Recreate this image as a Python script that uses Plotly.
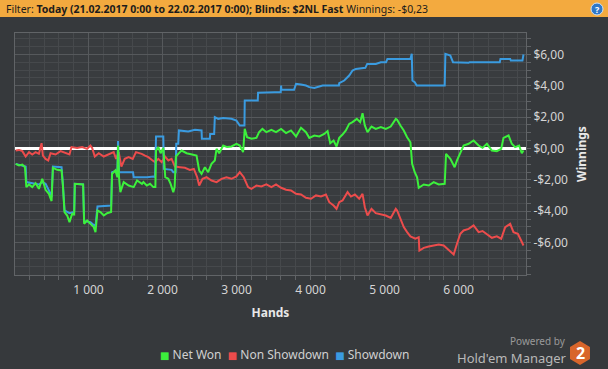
import plotly.graph_objects as go

# ---------------- data ----------------
hands_net = [17, 62, 107, 143, 161, 197, 241, 286, 331, 376, 421, 466, 502, 520, 578, 637, 655, 677, 713, 744,
             780, 807, 816, 870, 928, 942, 982, 1027, 1072, 1095, 1122, 1162, 1207, 1252, 1306, 1319, 1364, 1391,
             1400, 1413, 1431, 1476, 1543, 1611, 1656, 1723, 1742, 1787, 1832, 1877, 1904, 1913, 1944, 1975, 2011,
             2038, 2079, 2110, 2146, 2164, 2182, 2213, 2258, 2326, 2393, 2460, 2496, 2528, 2573, 2617, 2662, 2707,
             2730, 2766, 2820, 2873, 2932, 2999, 3044, 3089, 3111, 3143, 3201, 3269, 3305, 3350, 3403, 3471, 3534,
             3602, 3669, 3736, 3804, 3871, 3938, 3983, 4051, 4118, 4185, 4230, 4266, 4311, 4351, 4387, 4432, 4477,
             4522, 4567, 4625, 4670, 4702, 4733, 4769, 4823, 4881, 4949, 5016, 5083, 5151, 5169, 5214, 5259, 5304,
             5349, 5372, 5407, 5439, 5461, 5529, 5596, 5663, 5731, 5812, 5830, 5888, 5946, 5978, 6023, 6067, 6135,
             6202, 6270, 6323, 6382, 6449, 6516, 6575, 6606, 6674, 6718, 6763, 6817, 6853, 6876]
net_won = [-0.98, -1.08, -1.02, -1.19, -2.46, -2.29, -2.46, -2.21, -2.57, -1.93, -2.63, -2.89, -3.35, -1.23, -1.36,
           -1.40, -2.36, -4.05, -4.27, -4.69, -4.16, -4.20, -2.25, -2.29, -2.29, -4.80, -4.58, -4.80, -5.01, -5.33,
           -3.95, -4.05, -4.27, -4.12, -4.05, -1.61, -1.40, -1.83, 0.19, -1.83, -2.78, -2.14, -2.36, -2.46, -2.04,
           -2.25, -2.14, -2.36, -2.25, -2.46, -2.46, -0.13, 0.09, -0.30, 0.04, -1.83, -1.93, -2.25, -2.78, -2.46,
           -0.51, -0.34, -0.13, -0.30, -0.38, -0.45, -1.40, -1.61, -1.19, -1.51, -0.98, -0.76, -0.02, -0.30, 0.19,
           0.09, 0.13, 0.30, 0.19, -0.23, 1.25, 0.72, 0.62, 0.68, 1.04, 1.25, 1.04, 1.19, 1.04, 1.25, 0.98, 1.15,
           0.77, 1.32, 1.04, 0.68, 0.83, 0.77, 0.93, 1.11, 0.34, 0.51, 0.13, 0.68, 0.89, 1.15, 1.57, 1.68, 1.89,
           1.68, 2.25, 1.47, 1.04, 1.40, 1.25, 1.36, 1.25, 1.40, 1.89, 1.83, 1.47, 1.15, 0.72, 0.40, -0.98, -1.51,
           -1.83, -2.50, -2.29, -2.36, -2.14, -2.29, -2.25, -0.34, -0.66, -1.19, -0.76, -0.23, 0.19, 0.30, 0.51,
           0.19, 0.04, 0.30, -0.13, -0.17, -0.02, 0.68, 0.83, 0.30, 0.09, 0.19, -0.30, -0.13]

hands_nsd = [17, 62, 107, 152, 197, 241, 286, 331, 367, 385, 421, 457, 488, 556, 623, 690, 744, 771, 847, 915, 982,
             1027, 1050, 1086, 1139, 1207, 1274, 1341, 1373, 1409, 1445, 1490, 1543, 1598, 1642, 1701, 1719, 1764,
             1809, 1854, 1899, 1944, 1989, 2034, 2079, 2123, 2168, 2236, 2303, 2370, 2424, 2469, 2496, 2541, 2595,
             2662, 2730, 2797, 2864, 2932, 2999, 3044, 3098, 3156, 3201, 3269, 3336, 3403, 3471, 3534, 3602, 3669,
             3736, 3804, 3871, 3938, 4006, 4073, 4141, 4208, 4253, 4311, 4351, 4387, 4432, 4500, 4545, 4599, 4657,
             4702, 4733, 4769, 4823, 4881, 4949, 5016, 5083, 5151, 5169, 5214, 5259, 5304, 5349, 5416, 5461, 5470,
             5529, 5596, 5663, 5731, 5798, 5843, 5888, 5933, 5978, 6023, 6067, 6135, 6202, 6270, 6323, 6382, 6449,
             6516, 6575, 6629, 6696, 6741, 6800, 6844, 6876]
non_showdown = [-0.13, -0.09, -0.17, -0.51, -0.23, -0.38, -0.23, -0.34, 0.34, -0.45, -0.66, -0.76, -0.30, -0.38,
                -0.17, -0.30, -0.38, 0.09, 0.04, 0.09, -0.02, 0.19, 0.04, -0.51, -0.30, -0.51, -0.38, -0.23, -0.66,
                -0.23, -1.15, -0.66, -0.55, -0.66, -0.23, -0.30, -0.34, -0.45, -0.55, -0.72, -0.87, -0.66, -0.87,
                -0.51, -0.76, -0.66, -1.15, -1.19, -1.23, -1.36, -1.30, -1.83, -2.36, -1.93, -1.83, -2.04, -2.14,
                -1.93, -1.83, -1.93, -1.78, -1.51, -1.83, -2.46, -2.57, -2.36, -2.42, -2.29, -2.46, -2.29, -2.50,
                -2.63, -2.67, -2.89, -2.93, -3.14, -3.20, -2.99, -3.06, -2.93, -3.42, -3.63, -3.84, -3.42, -3.31,
                -2.78, -3.06, -2.93, -3.20, -2.89, -3.74, -4.27, -3.84, -4.12, -4.20, -4.27, -4.42, -3.84, -3.95,
                -4.48, -5.01, -5.33, -5.60, -5.75, -5.65, -6.50, -6.33, -6.24, -6.18, -6.11, -6.18, -6.39, -6.60,
                -6.75, -6.07, -5.43, -5.22, -5.12, -4.90, -5.33, -5.26, -5.48, -5.69, -5.60, -5.75, -5.01, -4.80,
                -5.33, -5.43, -5.86, -6.18]

hands_sd = [17, 107, 152, 161, 241, 331, 376, 421, 466, 502, 520, 637, 655, 677, 744, 807, 816, 928, 942, 1027,
            1095, 1122, 1306, 1319, 1391, 1400, 1413, 1602, 1611, 1791, 1877, 1899, 1913, 2011, 2020, 2123, 2146,
            2177, 2186, 2213, 2222, 2348, 2438, 2528, 2532, 2640, 2644, 2698, 2707, 2752, 2820, 2932, 2999, 3044,
            3107, 3111, 3287, 3291, 3516, 3534, 3597, 3602, 3606, 3777, 3804, 3871, 3938, 3983, 4051, 4118, 4163,
            4383, 4387, 4455, 4522, 4567, 4612, 4740, 4765, 4881, 4949, 5020, 5038, 5241, 5349, 5367, 5376, 5407,
            5434, 5812, 5821, 5888, 5924, 6135, 6147, 6556, 6565, 6696, 6705, 6862, 6876]
showdown = [-0.98, -1.08, -1.15, -2.14, -2.21, -2.29, -2.14, -2.25, -2.67, -3.10, -1.15, -1.19, -2.29, -3.95, -4.12,
            -4.05, -2.25, -2.29, -4.63, -4.69, -4.97, -3.69, -3.63, -1.51, -1.40, 0.47, -1.51, -1.51, -1.83, -1.83,
            -1.78, -1.83, 0.77, 0.77, -1.30, -1.36, -1.51, -1.51, 0.30, 0.30, 1.15, 1.08, 1.19, 1.15, 0.62, 0.62,
            0.93, 0.93, 2.00, 1.89, 1.95, 1.89, 1.78, 1.47, 1.47, 3.06, 3.06, 3.55, 3.59, 3.59, 3.59, 4.01, 3.74,
            3.74, 4.12, 4.08, 4.01, 3.91, 3.86, 3.95, 4.01, 4.01, 4.16, 4.33, 4.65, 4.97, 5.07, 5.14, 5.39, 5.39,
            5.50, 5.50, 5.71, 5.71, 5.71, 6.03, 4.33, 4.23, 4.01, 4.01, 6.03, 5.92, 5.50, 5.46, 5.50, 5.50, 5.71,
            5.71, 5.60, 5.60, 5.99]

x_tick_vals = [1000, 2000, 3000, 4000, 5000, 6000]
x_tick_text = ["1 000", "2 000", "3 000", "4 000", "5 000", "6 000"]
y_tick_vals = [-6, -4, -2, 0, 2, 4, 6]
y_tick_text = ["-$6,00", "-$4,00", "-$2,00", "$0,00", "$2,00", "$4,00", "$6,00"]

GREEN = "#3cf03c"
RED = "#ec4c4c"
BLUE = "#3a9be0"

# ---------------- figure ----------------
fig = go.Figure()
fig.add_trace(go.Scatter(x=hands_nsd, y=non_showdown, mode="lines", name="Non Showdown",
                         line=dict(color=RED, width=2)))
fig.add_trace(go.Scatter(x=hands_sd, y=showdown, mode="lines", name="Showdown",
                         line=dict(color=BLUE, width=2)))
fig.add_trace(go.Scatter(x=hands_net, y=net_won, mode="lines", name="Net Won",
                         line=dict(color=GREEN, width=2)))

L, R, T, B = 15, 82, 33, 94
W, H = 608, 369
PW, PH = W - L - R, H - T - B


def px(X):
    return (X - L) / PW


def py(Y):
    return (H - B - Y) / PH


fig.update_layout(
    width=W, height=H,
    margin=dict(l=L, r=R, t=T, b=B),
    paper_bgcolor="#36393c",
    plot_bgcolor="#393c3f",
    showlegend=False,
    font=dict(family="Noto Sans, DejaVu Sans, sans-serif", color="#d4d4d4", size=12),
    xaxis=dict(
        range=[8, 6910], tickmode="array", tickvals=x_tick_vals, ticktext=x_tick_text,
        ticks="outside", ticklen=4, tickcolor="#606366",
        showgrid=True, gridcolor="#56595c", gridwidth=1,
        minor=dict(tickmode="linear", tick0=0, dtick=200, showgrid=True, gridcolor="#46494c",
                   ticks="outside", ticklen=4, tickcolor="#606366"),
        showline=True, linecolor="#616467", linewidth=1, mirror=True, zeroline=False,
        tickfont=dict(size=12, color="#d4d4d4"),
        title=dict(text="<b>Hands</b>", standoff=11, font=dict(size=12, color="#e8e8e8")),
    ),
    yaxis=dict(
        side="right", range=[-8.06, 7.36], tickmode="array", tickvals=y_tick_vals, ticktext=y_tick_text,
        ticks="outside", ticklen=4, tickcolor="#606366",
        showgrid=True, gridcolor="#56595c", gridwidth=1,
        minor=dict(tickmode="linear", tick0=0, dtick=0.5, showgrid=True, gridcolor="#46494c",
                   ticks="outside", ticklen=4, tickcolor="#606366"),
        showline=True, linecolor="#616467", linewidth=1, mirror=True,
        zeroline=True, zerolinecolor="#ffffff", zerolinewidth=2.5,
        tickfont=dict(size=12, color="#d4d4d4"),
        title=dict(text="<b>Winnings</b>", standoff=10, font=dict(size=12, color="#e8e8e8")),
    ),
)

# header bar
fig.add_shape(type="rect", xref="paper", yref="paper", x0=px(0), x1=px(W), y0=py(17), y1=py(0),
              fillcolor="#f3aa3f", line=dict(width=0), layer="above")
fig.add_shape(type="circle", xref="paper", yref="paper", x0=px(591), x1=px(603), y0=py(15), y1=py(3),
              fillcolor="#2f78c8", line=dict(color="#cfe3f7", width=1), layer="above")
fig.add_annotation(xref="paper", yref="paper", x=px(597), y=py(9), text="<b>?</b>", showarrow=False,
                   font=dict(size=9, color="#ffffff"), xanchor="center", yanchor="middle")
fig.add_annotation(xref="paper", yref="paper", x=px(4), y=py(9), xanchor="left", yanchor="middle",
                   showarrow=False,
                   text="Filter: <b>Today (21.02.2017 0:00 to 22.02.2017 0:00); Blinds: $2NL Fast</b> Winnings: -$0,23",
                   font=dict(family="Noto Sans, DejaVu Sans, sans-serif", size=10.5, color="#1c1c1c"))

# legend (text)
legend_text = (f"<span style='color:{GREEN};font-size:10px'>■</span> Net Won  "
               f"<span style='color:{RED};font-size:10px'>■</span> Non Showdown  "
               f"<span style='color:{BLUE};font-size:10px'>■</span> Showdown")
fig.add_annotation(xref="paper", yref="paper", x=px(284), y=py(354), xanchor="center", yanchor="middle",
                   showarrow=False, text=legend_text, font=dict(size=12, color="#d0d0d0"))

# branding
fig.add_annotation(xref="paper", yref="paper", x=px(568), y=py(341), xanchor="right", yanchor="middle",
                   showarrow=False, text="Powered by", font=dict(size=10, color="#9a9a9a"))
fig.add_annotation(xref="paper", yref="paper", x=px(569), y=py(358), xanchor="right", yanchor="middle",
                   showarrow=False, text="Hold'em Manager", font=dict(size=13, color="#b8b8b8"))
cx, cy = 580, 353
hexagon = [(cx, cy - 12), (cx + 10, cy - 6), (cx + 10, cy + 6), (cx, cy + 12), (cx - 10, cy + 6), (cx - 10, cy - 6)]
path = "M " + " L ".join(f"{px(a):.4f},{py(b):.4f}" for a, b in hexagon) + " Z"
fig.add_shape(type="path", xref="paper", yref="paper", path=path, fillcolor="#d8652b",
              line=dict(width=0), layer="above")
fig.add_annotation(xref="paper", yref="paper", x=px(cx), y=py(cy), xanchor="center", yanchor="middle",
                   showarrow=False, text="<b>2</b>", font=dict(size=16, color="#ffffff"))

fig.write_html("out.html")
